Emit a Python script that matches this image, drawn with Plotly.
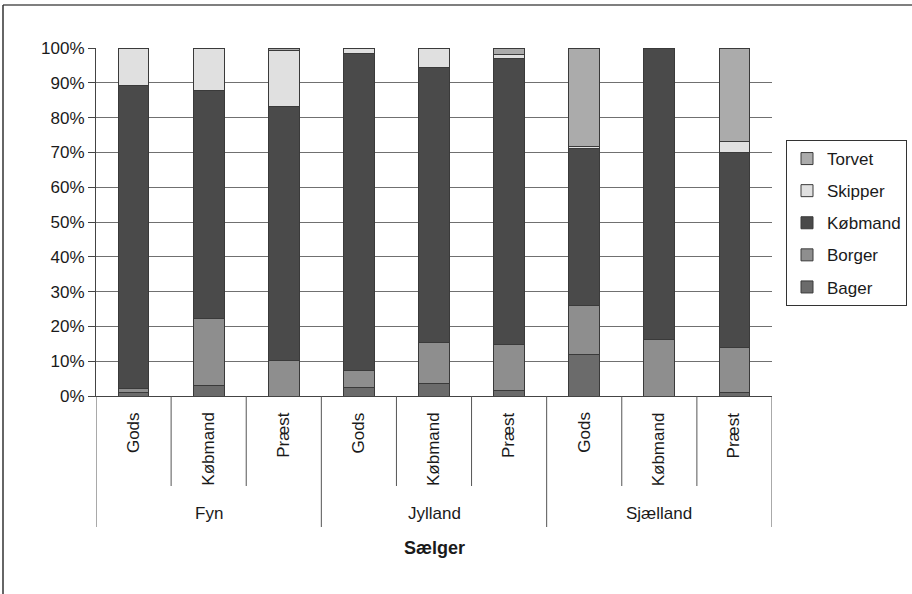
import plotly.graph_objects as go

# Regions and seller types (x-axis categories)
regions = ["Fyn", "Jylland", "Sjælland"]
sellers = ["Gods", "Købmand", "Præst"]

# Share of each buyer group (%) per region/seller, in order
# Fyn Gods, Fyn Købmand, Fyn Præst, Jylland ..., Sjælland ...
bager = [1.0, 3.0, 0.0, 2.4, 3.6, 1.6, 12.0, 0.0, 1.0]
borger = [1.2, 19.2, 10.1, 4.8, 11.9, 13.3, 14.1, 16.2, 12.8]
kobmand = [86.9, 65.5, 73.1, 91.2, 79.0, 82.1, 44.9, 83.8, 56.3]
skipper = [10.9, 12.3, 16.1, 1.6, 5.5, 1.0, 0.6, 0.0, 3.0]
torvet = [0.0, 0.0, 0.7, 0.0, 0.0, 2.0, 28.4, 0.0, 26.9]

series = [
    ("Bager", bager, "#6b6b6b"),
    ("Borger", borger, "#8e8e8e"),
    ("Købmand", kobmand, "#4a4a4a"),
    ("Skipper", skipper, "#e0e0e0"),
    ("Torvet", torvet, "#ababab"),
]

W, H = 912, 594
L, R, T, B = 96, 772, 48, 396  # plot area in pixels

def px(xp):
    return (xp - L) / (R - L)

def py(yp):
    return (B - yp) / (B - T)

FONT = "Liberation Sans, Arial, sans-serif"
n = len(regions) * len(sellers)
xs = list(range(n))

fig = go.Figure()
for rank, (name, vals, color) in enumerate(series):
    fig.add_trace(go.Bar(
        x=xs, y=vals, name=name, legendgroup=name,
        legendrank=1000 - rank,  # top of the stack listed first
        marker=dict(color=color, line=dict(color="#3a3a3a", width=1)),
    ))

shapes = []
annotations = []

# Seller labels (rotated) and short dividers
for i in range(n):
    annotations.append(dict(
        x=i, y=py(410), xref="x", yref="paper", text=sellers[i % len(sellers)],
        textangle=-90, showarrow=False, xanchor="center", yanchor="top",
        font=dict(family=FONT, size=17, color="#1a1a1a"),
    ))
for k in range(n + 1):
    long = k % len(sellers) == 0
    shapes.append(dict(
        type="line", xref="x", yref="paper", x0=k - 0.5, x1=k - 0.5,
        y0=0, y1=py(527 if long else 486),
        line=dict(color="#555555", width=1),
    ))

# Region labels
for g, reg in enumerate(regions):
    annotations.append(dict(
        x=g * len(sellers) + (len(sellers) - 1) / 2, y=py(513), xref="x", yref="paper",
        text=reg, showarrow=False, xanchor="center", yanchor="middle",
        font=dict(family=FONT, size=17, color="#1a1a1a"),
    ))

# Axis title
annotations.append(dict(
    x=(n - 1) / 2, y=py(548), xref="x", yref="paper", text="<b>Sælger</b>",
    showarrow=False, xanchor="center", yanchor="middle",
    font=dict(family=FONT, size=18, color="#1a1a1a"),
))

# Outer frame (top and left edges)
shapes.append(dict(type="line", xref="paper", yref="paper",
                   x0=px(3), x1=px(912), y0=py(5), y1=py(5),
                   line=dict(color="#555555", width=1.5)))
shapes.append(dict(type="line", xref="paper", yref="paper",
                   x0=px(3), x1=px(3), y0=py(5), y1=py(594),
                   line=dict(color="#333333", width=1.5)))

fig.update_layout(
    width=W, height=H,
    margin=dict(l=L, r=W - R, t=T, b=H - B, pad=0, autoexpand=False),
    barmode="stack", bargap=0.59,
    paper_bgcolor="white", plot_bgcolor="white",
    font=dict(family=FONT, size=17, color="#1a1a1a"),
    shapes=shapes, annotations=annotations,
    legend=dict(
        x=px(786), y=py(140), xanchor="left", yanchor="top",
        traceorder="grouped", tracegroupgap=7,
        bordercolor="#333333", borderwidth=1, bgcolor="white",
        font=dict(family=FONT, size=17, color="#1a1a1a"),
        itemwidth=30,
    ),
    xaxis=dict(
        range=[-0.5, n - 0.5], showticklabels=False, showgrid=False,
        showline=True, linecolor="#444444", linewidth=1, ticks="", zeroline=False,
    ),
    yaxis=dict(
        range=[0, 100], dtick=10, ticksuffix="%",
        showgrid=True, gridcolor="#707070", gridwidth=1,
        showline=True, linecolor="#444444", linewidth=1,
        ticks="outside", ticklen=7, tickcolor="#444444", zeroline=False,
        tickfont=dict(family=FONT, size=17, color="#1a1a1a"),
    ),
)

fig.write_html("out.html")
